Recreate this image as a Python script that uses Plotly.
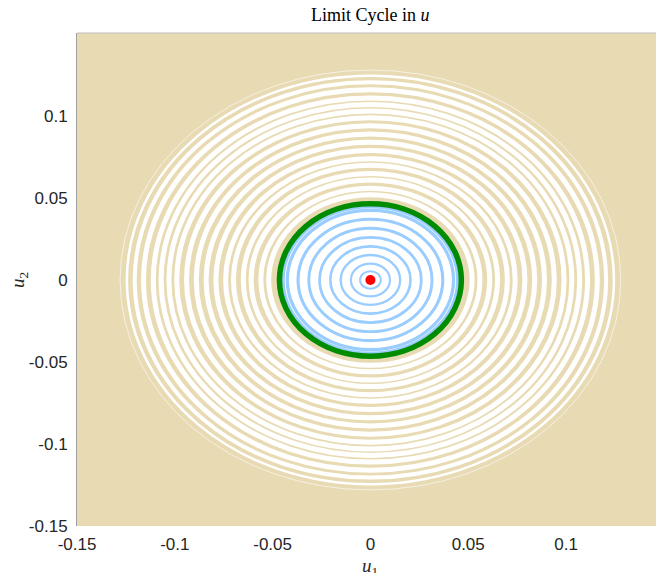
import plotly.graph_objects as go

# --- data ---
outer_ring_radii = [0.128, 0.1245, 0.1205, 0.116, 0.111, 0.107, 0.103, 0.099, 0.094,
                    0.089, 0.084, 0.079, 0.074, 0.070, 0.065, 0.061, 0.056, 0.052]
inner_ring_radii = [0.0053, 0.0100, 0.0152, 0.0205, 0.0260, 0.0315, 0.0370, 0.0425, 0.0447]
limit_cycle_radius = 0.0465
equilibrium_x = [0.0]
equilibrium_y = [0.0]

x_tickvals = [-0.15, -0.1, -0.05, 0, 0.05, 0.1]
x_ticktext = ["-0.15", "-0.1", "-0.05", "0", "0.05", "0.1"]
y_tickvals = [-0.15, -0.1, -0.05, 0, 0.05, 0.1]
y_ticktext = ["-0.15", "-0.1", "-0.05", "0", "0.05", "0.1"]

TAN = "rgb(232,219,180)"
shapes = []

def ring(r, color, width, opacity=1.0):
    return dict(type="circle", xref="x", yref="y", x0=-r, x1=r, y0=-r, y1=r,
                line=dict(color=color, width=width), opacity=opacity, layer="below")

for i, r in enumerate(outer_ring_radii):
    if i == 0:
        shapes.append(ring(r, "white", 1, 0.6))
    elif i == 1:
        shapes.append(ring(r, "white", 2.5))
    elif i == 2:
        shapes.append(ring(r, "white", 4))
    else:
        shapes.append(ring(r, "white", 5))

# white interior of the limit cycle
shapes.append(dict(type="circle", xref="x", yref="y",
                   x0=-limit_cycle_radius, x1=limit_cycle_radius,
                   y0=-limit_cycle_radius, y1=limit_cycle_radius,
                   fillcolor="white", line=dict(width=0), layer="below"))

n_in = len(inner_ring_radii)
for i, r in enumerate(inner_ring_radii):
    w = 2 + 1.5 * i / (n_in - 1)
    shapes.append(ring(r, "rgb(153,204,255)", w))

shapes.append(ring(limit_cycle_radius, "rgb(0,140,0)", 5.5))

# top border
shapes.append(dict(type="line", xref="paper", yref="paper", x0=0, x1=1, y0=1, y1=1,
                   line=dict(color="rgb(190,190,190)", width=1), layer="above"))

fig = go.Figure()
fig.add_trace(go.Scatter(x=equilibrium_x, y=equilibrium_y, mode="markers",
                         marker=dict(color="red", size=10), showlegend=False,
                         hoverinfo="skip"))

tickfont = dict(family="Liberation Sans, Arial, sans-serif", size=17, color="rgb(38,38,38)")
serif = "Liberation Serif, Times New Roman, serif"

fig.update_layout(
    width=656, height=573,
    margin=dict(l=77, r=0, t=33, b=47),
    paper_bgcolor="white", plot_bgcolor=TAN,
    shapes=shapes,
    showlegend=False,
    annotations=[
        dict(text="Limit Cycle in <i>u</i>", x=0, xref="x", xanchor="center",
             y=1, yref="paper", yshift=18, yanchor="middle", showarrow=False,
             font=dict(family=serif, size=18, color="black")),
        dict(text="<i>u</i><sub>1</sub>", x=0, xref="x", y=0, yref="paper",
             yshift=-41, yanchor="middle", xanchor="center", showarrow=False,
             font=dict(family=serif, size=19, color="rgb(38,38,38)")),
        dict(text="<i>u</i><sub>2</sub>", x=0, xref="paper", xshift=-58, xanchor="center",
             y=0, yref="y", yanchor="middle", textangle=-90, showarrow=False,
             font=dict(family=serif, size=19, color="rgb(38,38,38)")),
    ],
    xaxis=dict(range=[-0.15, 0.146], tickvals=x_tickvals, ticktext=x_ticktext,
               showgrid=False, zeroline=False, showline=False, ticks="",
               tickfont=tickfont, ticklabelstandoff=6, automargin=False),
    yaxis=dict(range=[-0.15, 0.1506], tickvals=y_tickvals, ticktext=y_ticktext,
               showgrid=False, zeroline=False, showline=True, linecolor="rgb(160,160,160)",
               linewidth=1, ticks="", tickfont=tickfont, ticklabelstandoff=5,
               automargin=False),
)

fig.write_html("out.html", config={"displayModeBar": False},
               post_script="document.body.style.margin='0';document.body.style.overflow='hidden';")
